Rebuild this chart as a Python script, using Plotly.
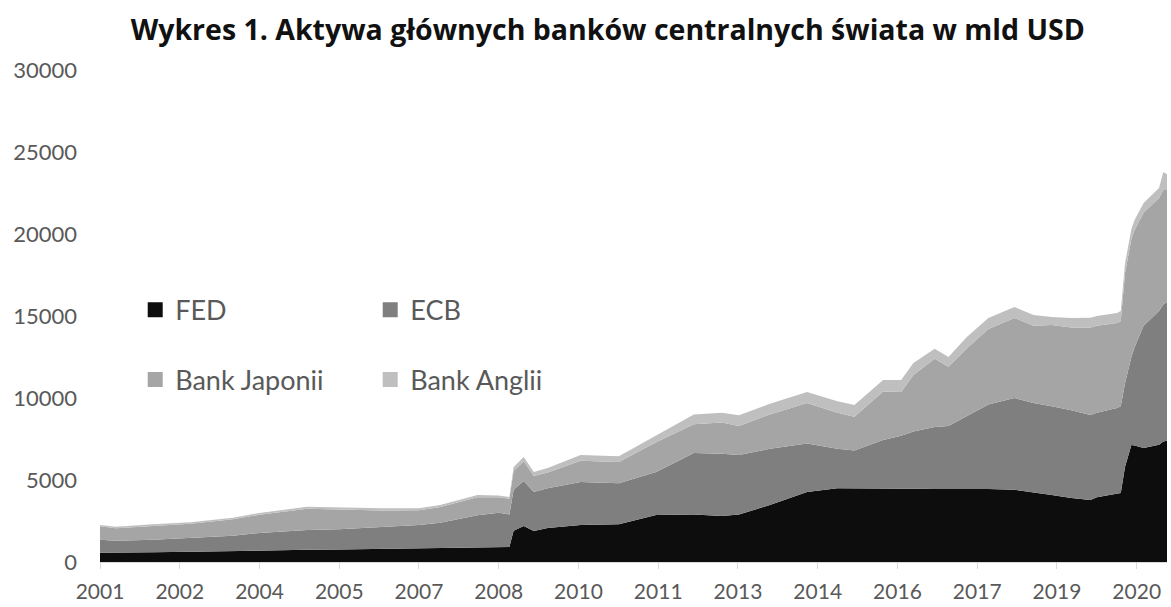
import plotly.graph_objects as go

# Time axis (decimal years)
t = [2001.0, 2001.3, 2002.0, 2002.7, 2003.5, 2004.0, 2004.9, 2005.5, 2006.3, 2007.0,
     2007.4, 2008.1, 2008.5, 2008.7, 2008.78, 2008.97, 2009.16, 2009.42, 2010.04, 2010.76,
     2011.46, 2012.17, 2012.7, 2013.02, 2013.6, 2014.3, 2014.87, 2015.19, 2015.73, 2016.07,
     2016.3, 2016.7, 2016.96, 2017.3, 2017.71, 2018.2, 2018.56, 2018.9, 2019.27, 2019.63,
     2019.75, 2020.13, 2020.2, 2020.28, 2020.4, 2020.46, 2020.63, 2020.92, 2021.0, 2021.07]

fed = [570, 570, 600, 620, 680, 700, 740, 760, 800, 840,
       850, 880, 900, 920, 1900, 2200, 1890, 2070, 2250, 2300,
       2860, 2900, 2800, 2900, 3470, 4270, 4500, 4500, 4480, 4480,
       4470, 4450, 4450, 4450, 4450, 4400, 4250, 4080, 3900, 3780,
       3950, 4150, 4200, 5800, 7130, 7100, 6950, 7150, 7350, 7400]

ecb = [790, 730, 750, 840, 920, 1070, 1210, 1240, 1320, 1420,
       1550, 1970, 2100, 1980, 2500, 2740, 2380, 2430, 2630, 2500,
       2630, 3740, 3800, 3620, 3430, 2950, 2400, 2300, 2960, 3220,
       3480, 3780, 3850, 4450, 5150, 5600, 5450, 5420, 5350, 5180,
       5150, 5240, 5300, 5100, 5370, 6000, 7450, 8150, 8350, 8450]

boj = [820, 760, 850, 870, 1000, 1110, 1290, 1200, 1020, 890,
       950, 1100, 950, 950, 1150, 1210, 980, 950, 1300, 1300,
       1810, 1760, 1900, 1780, 2100, 2480, 2200, 2050, 2960, 2670,
       3450, 4170, 3600, 4100, 4600, 4880, 4700, 4950, 5050, 5340,
       5300, 5180, 5200, 6700, 7200, 7140, 6900, 6900, 6980, 6830]

boe = [80, 90, 100, 90, 100, 110, 130, 130, 130, 120,
       120, 130, 100, 110, 240, 250, 240, 280, 340, 350,
       400, 600, 600, 650, 650, 670, 700, 720, 700, 730,
       730, 600, 600, 700, 680, 670, 660, 490, 580, 600,
       600, 610, 600, 600, 600, 610, 590, 600, 1100, 970]

tick_vals = [2001.0, 2002.5, 2004.0, 2005.5, 2007.0, 2008.5, 2010.0,
             2011.5, 2013.0, 2014.5, 2016.0, 2017.5, 2019.0, 2020.5]
tick_text = ["2001", "2002", "2004", "2005", "2007", "2008", "2010",
             "2011", "2013", "2014", "2016", "2017", "2019", "2020"]

names = ["FED", "ECB", "Bank Japonii", "Bank Anglii"]
colors = ["#0d0d0d", "#7f7f7f", "#a5a5a5", "#bfbfbf"]
series = [fed, ecb, boj, boe]
legend_ids = ["legend", "legend", "legend2", "legend2"]

fig = go.Figure()
for name, col, vals in zip(names, colors, series):
    fig.add_trace(go.Scatter(
        x=t, y=vals, name=name, stackgroup="one", mode="lines",
        line=dict(width=0, color=col), fillcolor=col, showlegend=False,
        hoverinfo="x+y+name"))

# Legend entries with square symbols
for name, col, lg in zip(names, colors, legend_ids):
    fig.add_trace(go.Scatter(
        x=[None], y=[None], name=name, mode="markers",
        marker=dict(symbol="square", size=15, color=col), legend=lg))

legend_font = dict(family="Lato, sans-serif", size=27, color="#595959")

fig.update_layout(
    width=1171, height=607,
    margin=dict(l=100, r=4, t=70, b=45),
    paper_bgcolor="white", plot_bgcolor="white",
    title=dict(text="Wykres 1. Aktywa głównych banków centralnych świata w mld USD",
               x=0.519, xanchor="center", y=1 - 30 / 607, yref="container", yanchor="middle",
               font=dict(family="Open Sans, sans-serif", size=28.5, color="#111111", weight="bold")),
    showlegend=True,
    legend=dict(orientation="h", x=0.033, xanchor="left", y=0.512, yanchor="middle",
                font=legend_font, entrywidth=190, entrywidthmode="pixels",
                bgcolor="rgba(0,0,0,0)", itemwidth=30, tracegroupgap=0,
                traceorder="normal"),
    legend2=dict(orientation="h", x=0.033, xanchor="left", y=0.370, yanchor="middle",
                 font=legend_font, entrywidth=190, entrywidthmode="pixels",
                 bgcolor="rgba(0,0,0,0)", itemwidth=30, tracegroupgap=0,
                 traceorder="normal"),
    xaxis=dict(range=[2001.0, 2021.07], tickvals=tick_vals, ticktext=tick_text,
               showgrid=False, zeroline=False, showline=True, linecolor="#d9d9d9",
               linewidth=1, ticks="outside", ticklen=6, tickcolor="#d9d9d9",
               tickfont=dict(family="Lato, sans-serif", size=21, color="#595959"),
               ticklabelstandoff=5, automargin=False),
    yaxis=dict(range=[0, 30000], tickvals=[0, 5000, 10000, 15000, 20000, 25000, 30000],
               tickformat="d", automargin=False,
               showgrid=False, zeroline=False, showline=False, ticks="",
               tickfont=dict(family="Lato, sans-serif", size=22, color="#595959"),
               ticklabelstandoff=22),
)

fig.write_html("out.html")
